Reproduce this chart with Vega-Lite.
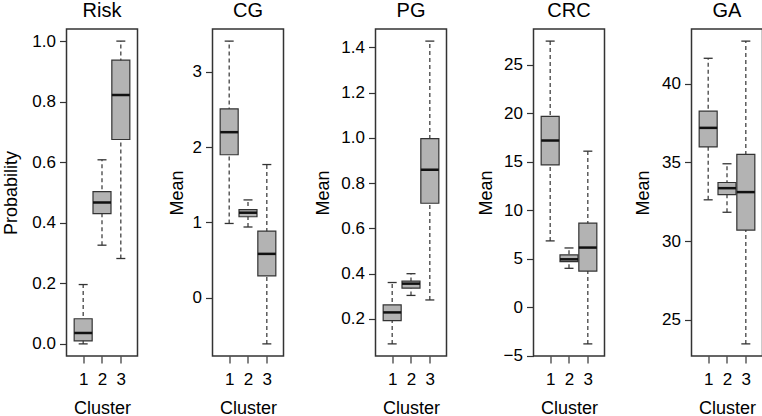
{
  "$schema": "https://vega.github.io/schema/vega-lite/v6.json",
  "padding": {"left": 1.5, "top": 0, "right": 0, "bottom": 0},
  "background": "white",
  "spacing": 28,
  "bounds": "full",
  "datasets": {
    "box": [
      {"v": "Risk", "c": 1, "lo": 0.0, "q1": 0.010, "med": 0.036, "q3": 0.083, "hi": 0.196},
      {"v": "Risk", "c": 2, "lo": 0.326, "q1": 0.430, "med": 0.467, "q3": 0.503, "hi": 0.608},
      {"v": "Risk", "c": 3, "lo": 0.282, "q1": 0.675, "med": 0.822, "q3": 0.937, "hi": 1.0},
      {"v": "CG", "c": 1, "lo": 0.987, "q1": 1.90, "med": 2.20, "q3": 2.51, "hi": 3.41},
      {"v": "CG", "c": 2, "lo": 0.94, "q1": 1.076, "med": 1.13, "q3": 1.17, "hi": 1.30},
      {"v": "CG", "c": 3, "lo": -0.613, "q1": 0.29, "med": 0.583, "q3": 0.885, "hi": 1.77},
      {"v": "PG", "c": 1, "lo": 0.090, "q1": 0.193, "med": 0.229, "q3": 0.262, "hi": 0.361},
      {"v": "PG", "c": 2, "lo": 0.304, "q1": 0.336, "med": 0.356, "q3": 0.367, "hi": 0.400},
      {"v": "PG", "c": 3, "lo": 0.284, "q1": 0.711, "med": 0.859, "q3": 0.996, "hi": 1.427},
      {"v": "CRC", "c": 1, "lo": 6.84, "q1": 14.68, "med": 17.20, "q3": 19.69, "hi": 27.46},
      {"v": "CRC", "c": 2, "lo": 4.01, "q1": 4.70, "med": 4.94, "q3": 5.39, "hi": 6.11},
      {"v": "CRC", "c": 3, "lo": -3.79, "q1": 3.73, "med": 6.15, "q3": 8.67, "hi": 16.10},
      {"v": "GA", "c": 1, "lo": 32.62, "q1": 35.98, "med": 37.19, "q3": 38.25, "hi": 41.61},
      {"v": "GA", "c": 2, "lo": 31.83, "q1": 32.95, "med": 33.36, "q3": 33.72, "hi": 34.91},
      {"v": "GA", "c": 3, "lo": 23.47, "q1": 30.70, "med": 33.11, "q3": 35.51, "hi": 42.70}
    ]
  },
  "config": {
    "font": "Liberation Sans",
    "view": {"stroke": "#333", "strokeWidth": 1.5},
    "axis": {
      "grid": false, "domain": false, "tickColor": "#333", "tickSize": 7, "tickWidth": 1.2,
      "labelFont": "Liberation Sans", "labelFontSize": 17, "labelColor": "#000",
      "titleFont": "Liberation Sans", "titleFontSize": 18, "titleFontWeight": "normal", "titleColor": "#000",
      "labelFlush": false, "labelOverlap": false
    },
    "axisX": {"labelPadding": 8, "labelAngle": 0, "titleBaseline": "top", "titleY": 43},
    "axisY": {"labelPadding": 4, "titleBaseline": "bottom", "titleAngle": -90},
    "title": {"fontSize": 20, "fontWeight": "normal", "font": "Liberation Sans", "color": "#000", "frame": "group", "anchor": "middle", "baseline": "alphabetic", "offset": 8}
  },
  "hconcat": [
    {
      "title": "Risk", "width": 71, "height": 327,
      "data": {"name": "box"},
      "transform": [{"filter": "datum.v === 'Risk'"}],
      "encoding": {"x": {"field": "c", "type": "quantitative", "scale": {"domain": [0.38, 3.62], "nice": false, "zero": false}, "axis": {"values": [1, 2, 3], "format": "d", "title": "Cluster"}}},
      "layer": [
        {"mark": {"type": "rule", "strokeDash": [4, 3], "color": "#333", "strokeWidth": 1.2},
         "encoding": {"y": {"field": "lo", "type": "quantitative", "scale": {"domain": [-0.04, 1.04], "nice": false, "zero": false}, "axis": {"values": [0, 0.2, 0.4, 0.6, 0.8, 1.0], "format": ".1f", "title": "Probability", "titleX": -45.7}}, "y2": {"field": "hi"}}},
        {"mark": {"type": "tick", "orient": "horizontal", "size": 9, "thickness": 1.3, "color": "#333", "opacity": 1},
         "encoding": {"y": {"field": "lo", "type": "quantitative", "scale": {"domain": [-0.04, 1.04], "nice": false, "zero": false}, "axis": {"values": [0, 0.2, 0.4, 0.6, 0.8, 1.0], "format": ".1f", "title": "Probability", "titleX": -45.7}}}},
        {"mark": {"type": "tick", "orient": "horizontal", "size": 9, "thickness": 1.3, "color": "#333", "opacity": 1},
         "encoding": {"y": {"field": "hi", "type": "quantitative", "scale": {"domain": [-0.04, 1.04], "nice": false, "zero": false}, "axis": {"values": [0, 0.2, 0.4, 0.6, 0.8, 1.0], "format": ".1f", "title": "Probability", "titleX": -45.7}}}},
        {"mark": {"type": "bar", "size": 18, "fill": "#b3b3b3", "stroke": "#333", "strokeWidth": 1.2, "opacity": 1},
         "encoding": {"y": {"field": "q1", "type": "quantitative", "scale": {"domain": [-0.04, 1.04], "nice": false, "zero": false}, "axis": {"values": [0, 0.2, 0.4, 0.6, 0.8, 1.0], "format": ".1f", "title": "Probability", "titleX": -45.7}}, "y2": {"field": "q3"}}},
        {"mark": {"type": "tick", "orient": "horizontal", "size": 18, "thickness": 2.5, "color": "#111", "opacity": 1},
         "encoding": {"y": {"field": "med", "type": "quantitative", "scale": {"domain": [-0.04, 1.04], "nice": false, "zero": false}, "axis": {"values": [0, 0.2, 0.4, 0.6, 0.8, 1.0], "format": ".1f", "title": "Probability", "titleX": -45.7}}}}
      ]
    },
    {
      "title": "CG", "width": 71, "height": 327,
      "data": {"name": "box"},
      "transform": [{"filter": "datum.v === 'CG'"}],
      "encoding": {"x": {"field": "c", "type": "quantitative", "scale": {"domain": [0.38, 3.62], "nice": false, "zero": false}, "axis": {"values": [1, 2, 3], "format": "d", "title": "Cluster"}}},
      "layer": [
        {"mark": {"type": "rule", "strokeDash": [4, 3], "color": "#333", "strokeWidth": 1.2},
         "encoding": {"y": {"field": "lo", "type": "quantitative", "scale": {"domain": [-0.774, 3.571], "nice": false, "zero": false}, "axis": {"values": [0, 1, 2, 3], "format": "d", "title": "Mean", "titleX": -26.5}}, "y2": {"field": "hi"}}},
        {"mark": {"type": "tick", "orient": "horizontal", "size": 9, "thickness": 1.3, "color": "#333", "opacity": 1},
         "encoding": {"y": {"field": "lo", "type": "quantitative", "scale": {"domain": [-0.774, 3.571], "nice": false, "zero": false}, "axis": {"values": [0, 1, 2, 3], "format": "d", "title": "Mean", "titleX": -26.5}}}},
        {"mark": {"type": "tick", "orient": "horizontal", "size": 9, "thickness": 1.3, "color": "#333", "opacity": 1},
         "encoding": {"y": {"field": "hi", "type": "quantitative", "scale": {"domain": [-0.774, 3.571], "nice": false, "zero": false}, "axis": {"values": [0, 1, 2, 3], "format": "d", "title": "Mean", "titleX": -26.5}}}},
        {"mark": {"type": "bar", "size": 18, "fill": "#b3b3b3", "stroke": "#333", "strokeWidth": 1.2, "opacity": 1},
         "encoding": {"y": {"field": "q1", "type": "quantitative", "scale": {"domain": [-0.774, 3.571], "nice": false, "zero": false}, "axis": {"values": [0, 1, 2, 3], "format": "d", "title": "Mean", "titleX": -26.5}}, "y2": {"field": "q3"}}},
        {"mark": {"type": "tick", "orient": "horizontal", "size": 18, "thickness": 2.5, "color": "#111", "opacity": 1},
         "encoding": {"y": {"field": "med", "type": "quantitative", "scale": {"domain": [-0.774, 3.571], "nice": false, "zero": false}, "axis": {"values": [0, 1, 2, 3], "format": "d", "title": "Mean", "titleX": -26.5}}}}
      ]
    },
    {
      "title": "PG", "width": 71, "height": 327,
      "data": {"name": "box"},
      "transform": [{"filter": "datum.v === 'PG'"}],
      "encoding": {"x": {"field": "c", "type": "quantitative", "scale": {"domain": [0.38, 3.62], "nice": false, "zero": false}, "axis": {"values": [1, 2, 3], "format": "d", "title": "Cluster"}}},
      "layer": [
        {"mark": {"type": "rule", "strokeDash": [4, 3], "color": "#333", "strokeWidth": 1.2},
         "encoding": {"y": {"field": "lo", "type": "quantitative", "scale": {"domain": [0.0365, 1.4805], "nice": false, "zero": false}, "axis": {"values": [0.2, 0.4, 0.6, 0.8, 1.0, 1.2, 1.4], "format": ".1f", "title": "Mean", "titleX": -43.5}}, "y2": {"field": "hi"}}},
        {"mark": {"type": "tick", "orient": "horizontal", "size": 9, "thickness": 1.3, "color": "#333", "opacity": 1},
         "encoding": {"y": {"field": "lo", "type": "quantitative", "scale": {"domain": [0.0365, 1.4805], "nice": false, "zero": false}, "axis": {"values": [0.2, 0.4, 0.6, 0.8, 1.0, 1.2, 1.4], "format": ".1f", "title": "Mean", "titleX": -43.5}}}},
        {"mark": {"type": "tick", "orient": "horizontal", "size": 9, "thickness": 1.3, "color": "#333", "opacity": 1},
         "encoding": {"y": {"field": "hi", "type": "quantitative", "scale": {"domain": [0.0365, 1.4805], "nice": false, "zero": false}, "axis": {"values": [0.2, 0.4, 0.6, 0.8, 1.0, 1.2, 1.4], "format": ".1f", "title": "Mean", "titleX": -43.5}}}},
        {"mark": {"type": "bar", "size": 18, "fill": "#b3b3b3", "stroke": "#333", "strokeWidth": 1.2, "opacity": 1},
         "encoding": {"y": {"field": "q1", "type": "quantitative", "scale": {"domain": [0.0365, 1.4805], "nice": false, "zero": false}, "axis": {"values": [0.2, 0.4, 0.6, 0.8, 1.0, 1.2, 1.4], "format": ".1f", "title": "Mean", "titleX": -43.5}}, "y2": {"field": "q3"}}},
        {"mark": {"type": "tick", "orient": "horizontal", "size": 18, "thickness": 2.5, "color": "#111", "opacity": 1},
         "encoding": {"y": {"field": "med", "type": "quantitative", "scale": {"domain": [0.0365, 1.4805], "nice": false, "zero": false}, "axis": {"values": [0.2, 0.4, 0.6, 0.8, 1.0, 1.2, 1.4], "format": ".1f", "title": "Mean", "titleX": -43.5}}}}
      ]
    },
    {
      "title": "CRC", "width": 71, "height": 327,
      "data": {"name": "box"},
      "transform": [{"filter": "datum.v === 'CRC'"}],
      "encoding": {"x": {"field": "c", "type": "quantitative", "scale": {"domain": [0.38, 3.62], "nice": false, "zero": false}, "axis": {"values": [1, 2, 3], "format": "d", "title": "Cluster"}}},
      "layer": [
        {"mark": {"type": "rule", "strokeDash": [4, 3], "color": "#333", "strokeWidth": 1.2},
         "encoding": {"y": {"field": "lo", "type": "quantitative", "scale": {"domain": [-5.04, 28.71], "nice": false, "zero": false}, "axis": {"values": [-5, 0, 5, 10, 15, 20, 25], "format": "d", "title": "Mean", "titleX": -38.5}}, "y2": {"field": "hi"}}},
        {"mark": {"type": "tick", "orient": "horizontal", "size": 9, "thickness": 1.3, "color": "#333", "opacity": 1},
         "encoding": {"y": {"field": "lo", "type": "quantitative", "scale": {"domain": [-5.04, 28.71], "nice": false, "zero": false}, "axis": {"values": [-5, 0, 5, 10, 15, 20, 25], "format": "d", "title": "Mean", "titleX": -38.5}}}},
        {"mark": {"type": "tick", "orient": "horizontal", "size": 9, "thickness": 1.3, "color": "#333", "opacity": 1},
         "encoding": {"y": {"field": "hi", "type": "quantitative", "scale": {"domain": [-5.04, 28.71], "nice": false, "zero": false}, "axis": {"values": [-5, 0, 5, 10, 15, 20, 25], "format": "d", "title": "Mean", "titleX": -38.5}}}},
        {"mark": {"type": "bar", "size": 18, "fill": "#b3b3b3", "stroke": "#333", "strokeWidth": 1.2, "opacity": 1},
         "encoding": {"y": {"field": "q1", "type": "quantitative", "scale": {"domain": [-5.04, 28.71], "nice": false, "zero": false}, "axis": {"values": [-5, 0, 5, 10, 15, 20, 25], "format": "d", "title": "Mean", "titleX": -38.5}}, "y2": {"field": "q3"}}},
        {"mark": {"type": "tick", "orient": "horizontal", "size": 18, "thickness": 2.5, "color": "#111", "opacity": 1},
         "encoding": {"y": {"field": "med", "type": "quantitative", "scale": {"domain": [-5.04, 28.71], "nice": false, "zero": false}, "axis": {"values": [-5, 0, 5, 10, 15, 20, 25], "format": "d", "title": "Mean", "titleX": -38.5}}}}
      ]
    },
    {
      "title": "GA", "width": 71, "height": 327,
      "data": {"name": "box"},
      "transform": [{"filter": "datum.v === 'GA'"}],
      "encoding": {"x": {"field": "c", "type": "quantitative", "scale": {"domain": [0.38, 3.62], "nice": false, "zero": false}, "axis": {"values": [1, 2, 3], "format": "d", "title": "Cluster"}}},
      "layer": [
        {"mark": {"type": "rule", "strokeDash": [4, 3], "color": "#333", "strokeWidth": 1.2},
         "encoding": {"y": {"field": "lo", "type": "quantitative", "scale": {"domain": [22.70, 43.47], "nice": false, "zero": false}, "axis": {"values": [25, 30, 35, 40], "format": "d", "title": "Mean", "titleX": -38.9}}, "y2": {"field": "hi"}}},
        {"mark": {"type": "tick", "orient": "horizontal", "size": 9, "thickness": 1.3, "color": "#333", "opacity": 1},
         "encoding": {"y": {"field": "lo", "type": "quantitative", "scale": {"domain": [22.70, 43.47], "nice": false, "zero": false}, "axis": {"values": [25, 30, 35, 40], "format": "d", "title": "Mean", "titleX": -38.9}}}},
        {"mark": {"type": "tick", "orient": "horizontal", "size": 9, "thickness": 1.3, "color": "#333", "opacity": 1},
         "encoding": {"y": {"field": "hi", "type": "quantitative", "scale": {"domain": [22.70, 43.47], "nice": false, "zero": false}, "axis": {"values": [25, 30, 35, 40], "format": "d", "title": "Mean", "titleX": -38.9}}}},
        {"mark": {"type": "bar", "size": 18, "fill": "#b3b3b3", "stroke": "#333", "strokeWidth": 1.2, "opacity": 1},
         "encoding": {"y": {"field": "q1", "type": "quantitative", "scale": {"domain": [22.70, 43.47], "nice": false, "zero": false}, "axis": {"values": [25, 30, 35, 40], "format": "d", "title": "Mean", "titleX": -38.9}}, "y2": {"field": "q3"}}},
        {"mark": {"type": "tick", "orient": "horizontal", "size": 18, "thickness": 2.5, "color": "#111", "opacity": 1},
         "encoding": {"y": {"field": "med", "type": "quantitative", "scale": {"domain": [22.70, 43.47], "nice": false, "zero": false}, "axis": {"values": [25, 30, 35, 40], "format": "d", "title": "Mean", "titleX": -38.9}}}}
      ]
    }
  ]
}
